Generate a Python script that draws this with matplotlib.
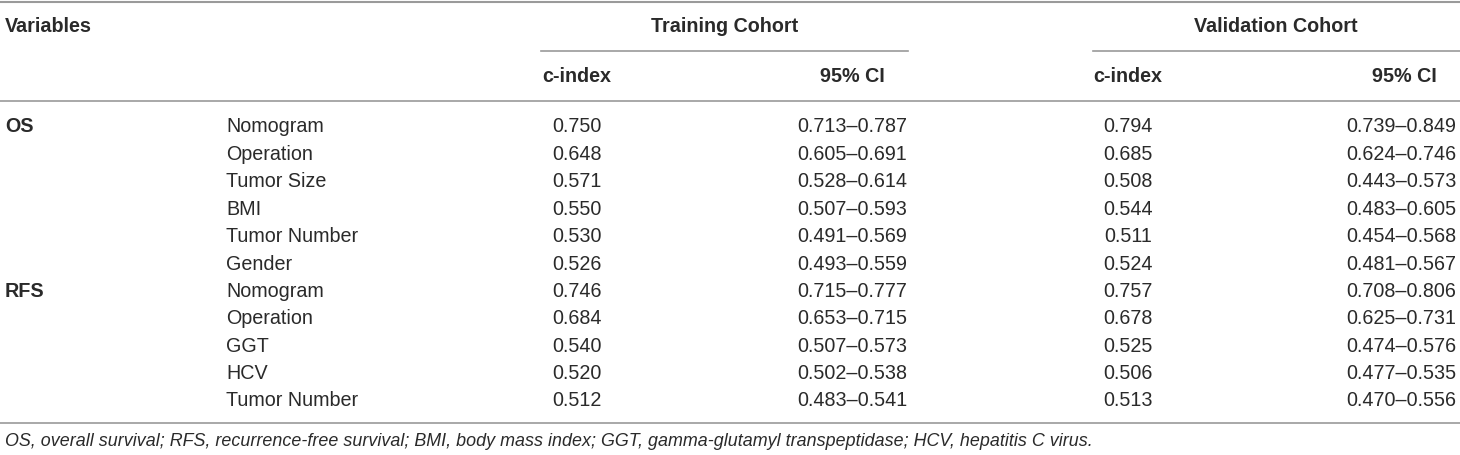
import matplotlib
matplotlib.use("Agg")
from matplotlib import pyplot as plt

plt.rcParams['font.family'] = ['Liberation Sans', 'DejaVu Sans']

groups = ["OS", "", "", "", "", "", "RFS", "", "", "", ""]
variables = ["Nomogram", "Operation", "Tumor Size", "BMI", "Tumor Number", "Gender",
             "Nomogram", "Operation", "GGT", "HCV", "Tumor Number"]
train_c = ["0.750", "0.648", "0.571", "0.550", "0.530", "0.526",
           "0.746", "0.684", "0.540", "0.520", "0.512"]
train_ci = ["0.713–0.787", "0.605–0.691", "0.528–0.614", "0.507–0.593", "0.491–0.569", "0.493–0.559",
            "0.715–0.777", "0.653–0.715", "0.507–0.573", "0.502–0.538", "0.483–0.541"]
valid_c = ["0.794", "0.685", "0.508", "0.544", "0.511", "0.524",
           "0.757", "0.678", "0.525", "0.506", "0.513"]
valid_ci = ["0.739–0.849", "0.624–0.746", "0.443–0.573", "0.483–0.605", "0.454–0.568", "0.481–0.567",
            "0.708–0.806", "0.625–0.731", "0.474–0.576", "0.477–0.535", "0.470–0.556"]
footnote = ("OS, overall survival; RFS, recurrence-free survival; BMI, body mass index; "
            "GGT, gamma-glutamyl transpeptidase; HCV, hepatitis C virus.")

W, H = 1460, 455
fig = plt.figure(figsize=(W / 100, H / 100), dpi=100)
ax = fig.add_axes([0, 0, 1, 1])
ax.set_xlim(0, W)
ax.set_ylim(H, 0)
ax.axis("off")

fs = 14.2
txt = "#2a2a2a"
line_c = "#9a9a9a"

# rules
ax.plot([0, W], [2, 2], color=line_c, lw=1.5)
ax.plot([541, 908], [51, 51], color=line_c, lw=1.2)
ax.plot([1093, W], [51, 51], color=line_c, lw=1.2)
ax.plot([0, W], [101, 101], color=line_c, lw=1.2)
ax.plot([0, W], [423, 423], color=line_c, lw=1.2)

# header
ax.text(5, 27, "Variables", fontsize=fs, fontweight="bold", color=txt, va="center", ha="left")
ax.text(724.5, 27, "Training Cohort", fontsize=fs, fontweight="bold", color=txt, va="center", ha="center")
ax.text(1276, 27, "Validation Cohort", fontsize=fs, fontweight="bold", color=txt, va="center", ha="center")
for x, lab in [(577, "c-index"), (852, "95% CI"), (1128, "c-index"), (1404, "95% CI")]:
    ax.text(x, 77, lab, fontsize=fs, fontweight="bold", color=txt, va="center", ha="center")

# body
y0, dy = 127, 27.4
for i in range(len(variables)):
    y = y0 + i * dy
    if groups[i]:
        ax.text(5, y, groups[i], fontsize=fs, fontweight="bold", color=txt, va="center", ha="left")
    ax.text(226, y, variables[i], fontsize=fs, color=txt, va="center", ha="left")
    ax.text(577, y, train_c[i], fontsize=fs, color=txt, va="center", ha="center")
    ax.text(852, y, train_ci[i], fontsize=fs, color=txt, va="center", ha="center")
    ax.text(1128, y, valid_c[i], fontsize=fs, color=txt, va="center", ha="center")
    ax.text(1401, y, valid_ci[i], fontsize=fs, color=txt, va="center", ha="center")

ax.text(5, 441, footnote, fontsize=12.9, style="italic", color=txt, va="center", ha="left")

fig.savefig("out.png", dpi=100)
